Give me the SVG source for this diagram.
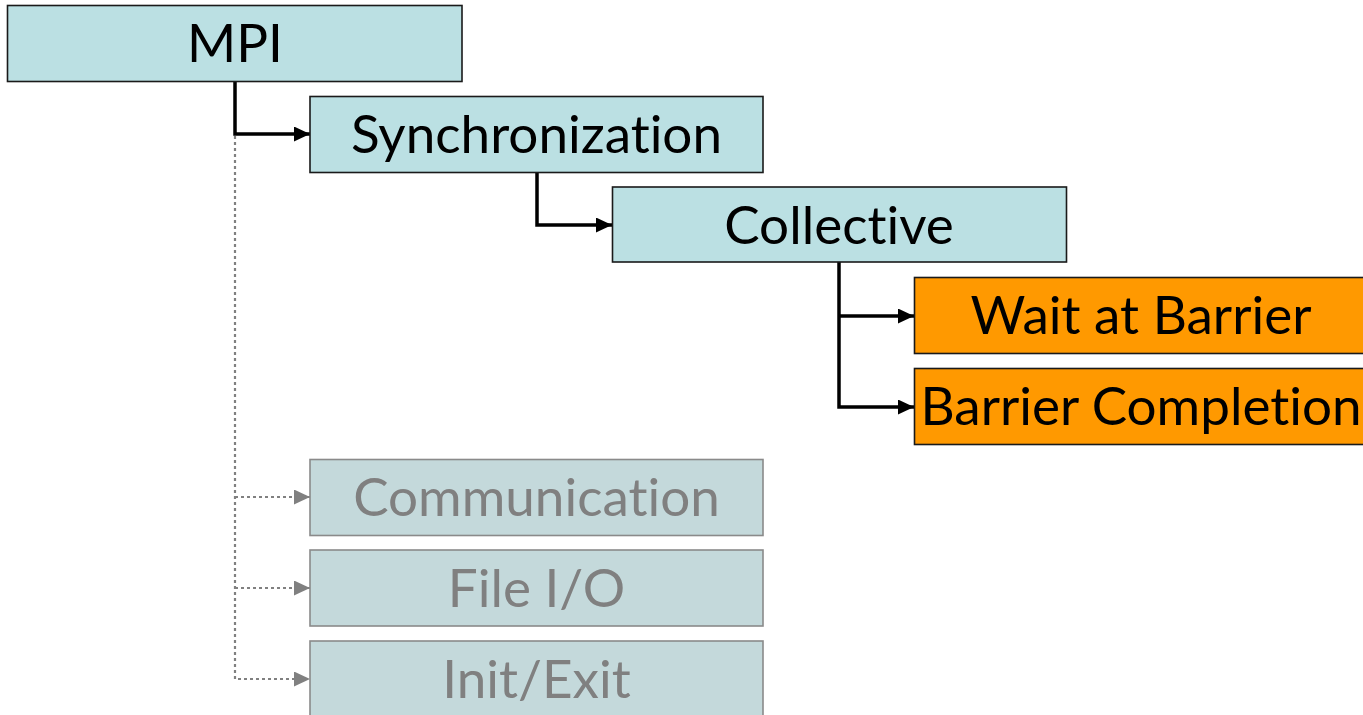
<svg xmlns="http://www.w3.org/2000/svg" width="1363" height="715" viewBox="0 0 1363 715">
  <defs>
    <marker id="arrowBlack" viewBox="0 0 16 15" refX="16" refY="7.5" markerWidth="16" markerHeight="15" markerUnits="userSpaceOnUse" orient="auto">
      <path d="M0,0 L16,7.5 L0,15 Z" fill="#000"/>
    </marker>
    <marker id="arrowGray" viewBox="0 0 16 15" refX="16" refY="7.5" markerWidth="16" markerHeight="15" markerUnits="userSpaceOnUse" orient="auto">
      <path d="M0,0 L16,7.5 L0,15 Z" fill="#808080"/>
    </marker>
  </defs>
  <style>
    .box { stroke-width: 1.6; }
    .active { fill: #bbe0e3; stroke: #1a1a1a; }
    .leaf { fill: #ff9900; stroke: #1a1a1a; }
    .muted { fill: #c4d9db; stroke: #8a8a8a; }
    .label { font-family: Lato, "Open Sans", "DejaVu Sans", sans-serif; font-size: 53px; text-anchor: middle; font-variant-ligatures: none; font-feature-settings: "liga" 0, "clig" 0; }
    .dark { fill: #000; }
    .grey { fill: #808080; }
    .link { fill: none; stroke: #000; stroke-width: 3.5; }
    .link-muted { fill: none; stroke: #808080; stroke-width: 2.2; stroke-dasharray: 3 3; }
  </style>
  <rect width="1363" height="715" fill="#fff"/>

  <g id="connectors">
    <path class="link" d="M235,81 V134 H310" marker-end="url(#arrowBlack)"/>
    <path class="link" d="M537,172 V225 H612" marker-end="url(#arrowBlack)"/>
    <path class="link" d="M839,262 V407 H914" marker-end="url(#arrowBlack)"/>
    <path class="link" d="M839,316 H914" marker-end="url(#arrowBlack)"/>
    <path class="link-muted" d="M235,136 V679 H310" marker-end="url(#arrowGray)"/>
    <path class="link-muted" d="M235,497 H310" marker-end="url(#arrowGray)"/>
    <path class="link-muted" d="M235,588 H310" marker-end="url(#arrowGray)"/>
  </g>

  <g id="node-mpi">
    <rect class="box active" x="7.5" y="5.5" width="454.5" height="76"/>
    <text class="label dark" x="235" y="62">MPI</text>
  </g>
  <g id="node-synchronization">
    <rect class="box active" x="310" y="96.5" width="453" height="76"/>
    <text class="label dark" x="536.5" y="153.3">Synchronization</text>
  </g>
  <g id="node-collective">
    <rect class="box active" x="612.5" y="187" width="454" height="75"/>
    <text class="label dark" x="839" y="243.5">Collective</text>
  </g>
  <g id="node-wait-at-barrier">
    <rect class="box leaf" x="914.5" y="277.5" width="454" height="76"/>
    <text class="label dark" x="1141" y="334">Wait at Barrier</text>
  </g>
  <g id="node-barrier-completion">
    <rect class="box leaf" x="914.5" y="368.5" width="454" height="76"/>
    <text class="label dark" x="1141" y="425">Barrier Completion</text>
  </g>
  <g id="node-communication">
    <rect class="box muted" x="310" y="459.5" width="453" height="76"/>
    <text class="label grey" x="536.5" y="516">Communication</text>
  </g>
  <g id="node-file-io">
    <rect class="box muted" x="310" y="550" width="453" height="76"/>
    <text class="label grey" x="536.5" y="606.5">File I/O</text>
  </g>
  <g id="node-init-exit">
    <rect class="box muted" x="310" y="641" width="453" height="76"/>
    <text class="label grey" x="536.5" y="697.5">Init/Exit</text>
  </g>
</svg>
